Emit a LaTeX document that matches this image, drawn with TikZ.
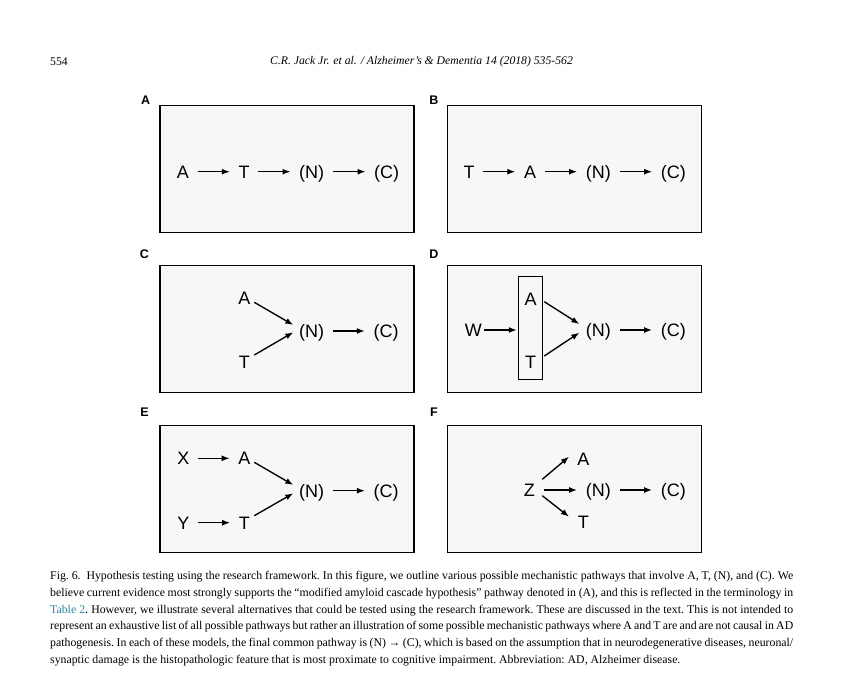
\documentclass[tikz,border=0pt]{standalone}
\usepackage{fontspec}
\setmainfont{Liberation Serif}
\newfontfamily\panelfont{Liberation Sans}
\usetikzlibrary{positioning,arrows.meta}
\definecolor{tablelink}{RGB}{45,135,170}

\begin{document}
\begin{tikzpicture}[x=1pt,y=-1pt,>={Latex[length=8pt,width=6pt]},on grid,
  panel/.style={draw,line width=1.3pt,fill=black!3,minimum width=254pt,
    minimum height=127pt,inner sep=0pt},
  term/.style={font=\panelfont\fontsize{18}{18}\selectfont,inner sep=2pt,
    text height=12.9pt,text depth=0pt},
  tag/.style={font=\panelfont\bfseries\fontsize{12.5}{12.5}\selectfont},
  flow/.style={->,line width=1.35pt,shorten <=6.5pt,shorten >=6.5pt},
  arr/.style={->,line width=1.35pt}]
\path[use as bounding box,fill=white] (0,0) rectangle (843,679);
\node[font=\fontsize{11.7}{13}\selectfont,anchor=west,inner sep=0pt] (pg) at (50,62) {554};
\node[font=\itshape\fontsize{11.7}{13}\selectfont] (hd) at (421.5,62)
  {C.R. Jack Jr. et al. / Alzheimer’s \& Dementia 14 (2018) 535-562};
\node[panel] (pa) at (287,169.2) {};
\node[panel,right=287.5pt of pa] (pb) {};
\node[panel,below=159.5pt of pa] (pc) {};
\node[panel,right=287.5pt of pc] (pd) {};
\node[panel,below=160pt of pc] (pe) {};
\node[panel,right=287.5pt of pe] (pf) {};
\node[tag] (ta) at (145.7,100.7) {A};
\node[tag] (tb) at (434,100.7) {B};
\node[tag] (tc) at (144.5,254.3) {C};
\node[tag] (td) at (434,254.3) {D};
\node[tag] (te) at (144.5,411.7) {E};
\node[tag] (tf) at (434,411.7) {F};
\node[term] (aa) at (183,171.7) {A};
\node[term,right=61pt of aa] (at) {T};
\node[term,right=67.7pt of at] (an) {(N)};
\node[term,right=75pt of an] (ac) {(C)};
\draw[flow] (aa) -- (at);
\draw[flow] (at) -- (an);
\draw[flow] (an) -- (ac);
\node[term] (bt) at (469,171.7) {T};
\node[term,right=61pt of bt] (ba) {A};
\node[term,right=68.3pt of ba] (bn) {(N)};
\node[term,right=75pt of bn] (bc) {(C)};
\draw[flow] (bt) -- (ba);
\draw[flow] (ba) -- (bn);
\draw[flow] (bn) -- (bc);
\node[term] (cn) at (311.7,331) {(N)};
\node[term,right=74.3pt of cn] (cc) {(C)};
\node[term,above left=32.7pt and 67.4pt of cn] (ca) {A};
\node[term,below left=30.7pt and 67.4pt of cn] (ct) {T};
\draw[arr] ([shift={(10,4)}]ca.center) -- ([shift={(-18.4,-6)}]cn.center);
\draw[arr] ([shift={(10,-6.7)}]ct.center) -- ([shift={(-18.4,1.3)}]cn.center);
\draw[flow] (cn) -- (cc);
\node[term] (dn) at (598.3,330) {(N)};
\node[term,right=75pt of dn] (dc) {(C)};
\node[term,left=125pt of dn] (dw) {W};
\node[draw,line width=1.1pt,minimum width=24.4pt,minimum height=103.3pt,
  inner sep=0pt] (dbox) at (530.5,327.7) {};
\node[term] (da) at (530.7,299.3) {A};
\node[term,below=62.4pt of da] (dt) {T};
\draw[arr,shorten >=1pt] (dw) -- (dw -| dbox.west);
\draw[arr] ([shift={(13.6,2.4)}]da.center) -- ([shift={(-19,-6)}]dn.center);
\draw[arr] ([shift={(13.6,-5.7)}]dt.center) -- ([shift={(-19,2.7)}]dn.center);
\draw[flow] (dn) -- (dc);
\node[term] (en) at (311.7,490.7) {(N)};
\node[term,right=74.3pt of en] (ec) {(C)};
\node[term,above left=32.4pt and 67.4pt of en] (ea) {A};
\node[term,below left=32pt and 67.4pt of en] (et) {T};
\node[term,left=61pt of ea] (ex) {X};
\node[term,left=61pt of et] (ey) {Y};
\draw[flow] (ex) -- (ea);
\draw[flow] (ey) -- (et);
\draw[arr] ([shift={(10,4)}]ea.center) -- ([shift={(-18.4,-5.7)}]en.center);
\draw[arr] ([shift={(10,-7)}]et.center) -- ([shift={(-18.4,2.6)}]en.center);
\draw[flow] (en) -- (ec);
\node[term] (fz) at (529.3,490) {Z};
\node[term,right=69pt of fz] (fn) {(N)};
\node[term,right=75pt of fn] (fc) {(C)};
\node[term,above right=30.7pt and 54pt of fz] (fa) {A};
\node[term,below right=31.7pt and 54pt of fz] (ft) {T};
\draw[flow] (fz) -- (fn);
\draw[flow] (fn) -- (fc);
\draw[arr] ([shift={(13,-10.7)}]fz.center) -- ([shift={(-14.3,-2.6)}]fa.center);
\draw[arr] ([shift={(13,5.7)}]fz.center) -- ([shift={(-14.3,-5)}]ft.center);
\node[anchor=north west,text width=743pt,align=justify,inner sep=0pt,
  font=\frenchspacing\fontsize{11.8}{16.8}\selectfont] (cap) at (50,571)
  {Fig. 6.\enspace Hypothesis testing using the research framework. In this figure, we outline various possible mechanistic pathways that involve A, T, (N), and (C). We\linebreak
  believe current evidence most strongly supports the “modified amyloid cascade hypothesis” pathway denoted in (A), and this is reflected in the terminology in\linebreak
  \textcolor{tablelink}{Table 2}. However, we illustrate several alternatives that could be tested using the research framework. These are discussed in the text. This is not intended to\linebreak
  represent an exhaustive list of all possible pathways but rather an illustration of some possible mechanistic pathways where A and T are and are not causal in AD\linebreak
  pathogenesis. In each of these models, the final common pathway is (N) → (C), which is based on the assumption that in neurodegenerative diseases, neuronal/\linebreak
  synaptic damage is the histopathologic feature that is most proximate to cognitive impairment. Abbreviation: AD, Alzheimer disease.};
\end{tikzpicture}
\end{document}
